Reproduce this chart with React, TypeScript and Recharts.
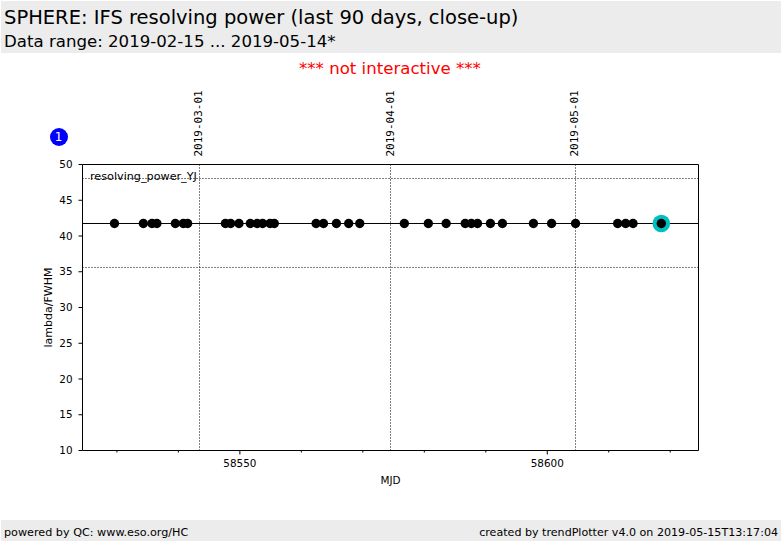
import { ScatterChart, Scatter, XAxis, YAxis, ReferenceLine } from 'recharts';

const FONT = '"DejaVu Sans", sans-serif';

const mjd = [
  58529.6, 58534.3, 58535.7, 58536.5, 58539.5, 58540.8, 58541.5, 58547.65, 58548.5, 58549.85,
  58551.7, 58552.8, 58553.7, 58554.9, 58555.6, 58562.4, 58563.6, 58565.7, 58567.7, 58569.5,
  58576.75, 58580.65, 58583.55, 58586.65, 58587.65, 58588.65, 58590.75, 58592.7, 58597.75, 58600.7,
  58604.6, 58611.45, 58612.75, 58613.95, 58618.55,
];
const resolvingPower = [
  41.75, 41.75, 41.75, 41.75, 41.75, 41.75, 41.75, 41.75, 41.75, 41.75,
  41.75, 41.75, 41.75, 41.75, 41.75, 41.75, 41.75, 41.75, 41.75, 41.75,
  41.75, 41.75, 41.75, 41.75, 41.75, 41.75, 41.75, 41.75, 41.75, 41.75,
  41.75, 41.75, 41.75, 41.75, 41.75,
];

const dateTicks = [58543.43, 58574.5, 58604.59];
const dateLabels = ['2019-03-01', '2019-04-01', '2019-05-01'];
const mjdTicks = [58530, 58540, 58550, 58560, 58570, 58580, 58590, 58600, 58610, 58620];
const mjdLabelled = [58550, 58600];
const yTicks = [10, 15, 20, 25, 30, 35, 40, 45, 50];
const medianValue = 41.75;
const limitValues = [48.04, 35.6];
const xDomain = [58524.4, 58624.6];

const points = mjd.map((x, i) => ({ x, y: resolvingPower[i] }));
const lastPoint = points.slice(-1);

function MjdTick({ x, y, payload }: any) {
  const major = mjdLabelled.includes(payload.value);
  return (
    <g>
      <line x1={x} x2={x} y1={y} y2={y + (major ? 4 : 2)} stroke="#000" />
      {major && (
        <text x={x} y={y + 16} textAnchor="middle" fontSize={10.4} fontFamily={FONT} fill="#000">
          {payload.value}
        </text>
      )}
    </g>
  );
}

function DateTick({ x, y, payload }: any) {
  const label = dateLabels[dateTicks.indexOf(payload.value)];
  return (
    <text
      transform={`translate(${x + 3},${y - 8}) rotate(-90)`}
      fontSize={11}
      fontFamily='"DejaVu Sans Mono", monospace'
      fill="#000"
    >
      {label}
    </text>
  );
}

const Dot = ({ cx, cy }: any) => <circle cx={cx} cy={cy} r={4.7} fill="#000" />;
const Highlight = ({ cx, cy }: any) => <circle cx={cx} cy={cy} r={8.8} fill="#00bfbf" />;

const bar = { position: 'absolute', left: 1, width: 780, background: '#ececec' } as const;
const text = { position: 'absolute', fontFamily: FONT, whiteSpace: 'nowrap', color: '#000' } as const;

export default function App() {
  return (
    <div style={{ position: 'absolute', left: 0, top: 0, width: 782, height: 542, background: '#fff', overflow: 'hidden' }}>
      <div style={{ ...bar, top: 1, height: 52 }} />
      <div style={{ ...bar, top: 520, height: 21 }} />
      <div style={{ ...text, left: 4, top: 6, fontSize: 19.5 }}>SPHERE: IFS resolving power (last 90 days, close-up)</div>
      <div style={{ ...text, left: 4, top: 32, fontSize: 16.6 }}>Data range: 2019-02-15 ... 2019-05-14*</div>
      <div style={{ ...text, left: 299, top: 59, fontSize: 16.6, color: '#ff0000' }}>*** not interactive ***</div>
      <div style={{ ...text, left: 4, top: 526, fontSize: 11.2 }}>powered by QC: www.eso.org/HC</div>
      <div style={{ ...text, right: 4, top: 526, fontSize: 11.1 }}>created by trendPlotter v4.0 on 2019-05-15T13:17:04</div>

      <div style={{ position: 'absolute', left: 0, top: 0 }}>
        <ScatterChart width={782} height={542} margin={{ top: 156.5, right: 82.5, bottom: 61.5, left: 42.5 }}>
          <XAxis
            xAxisId="mjd"
            type="number"
            dataKey="x"
            domain={xDomain}
            ticks={mjdTicks}
            allowDataOverflow
            height={30}
            tickLine={false}
            tick={MjdTick}
            tickMargin={0}
            tickSize={0}
            interval={0}
            stroke="#000"
            label={{ value: 'MJD', position: 'insideBottom', offset: -3, fontSize: 10.4, fontFamily: FONT, fill: '#000' }}
          />
          <XAxis
            xAxisId="date"
            orientation="top"
            type="number"
            dataKey="x"
            domain={xDomain}
            ticks={dateTicks}
            allowDataOverflow
            height={8}
            tickLine={false}
            tick={DateTick}
            tickMargin={0}
            tickSize={0}
            interval={0}
            stroke="#000"
          />
          <YAxis
            yAxisId="left"
            type="number"
            dataKey="y"
            domain={[10, 50]}
            ticks={yTicks}
            width={40}
            tickSize={4}
            tickMargin={6}
            interval={0}
            stroke="#000"
            tick={{ fontSize: 10.4, fontFamily: FONT, fill: '#000' }}
            label={{ value: 'lambda/FWHM', angle: -90, position: 'insideLeft', offset: 6, fontSize: 11, fontFamily: FONT, fill: '#000', style: { textAnchor: 'middle' } }}
          />
          <YAxis yAxisId="right" orientation="right" type="number" dataKey="y" domain={[10, 50]} width={1} tick={false} tickLine={false} stroke="#000" />

          {limitValues.map((v) => (
            <ReferenceLine key={v} xAxisId="mjd" yAxisId="left" y={v} stroke="#000" strokeDasharray="1 2" />
          ))}
          {dateTicks.map((v) => (
            <ReferenceLine key={v} xAxisId="mjd" yAxisId="left" x={v} stroke="#000" strokeDasharray="1 2" />
          ))}
          <ReferenceLine xAxisId="mjd" yAxisId="left" y={medianValue} stroke="#000" />

          <Scatter xAxisId="mjd" yAxisId="left" data={lastPoint} shape={Highlight} isAnimationActive={false} />
          <Scatter xAxisId="mjd" yAxisId="left" data={points} shape={Dot} isAnimationActive={false} />
        </ScatterChart>
      </div>

      <div style={{ ...text, left: 90, top: 170, fontSize: 11.2 }}>resolving_power_YJ</div>
      <div
        style={{
          ...text,
          left: 49.5,
          top: 127.5,
          width: 18,
          height: 18,
          borderRadius: '50%',
          background: '#0000ff',
          color: '#fff',
          fontSize: 12,
          lineHeight: '18px',
          textAlign: 'center',
        }}
      >
        1
      </div>
    </div>
  );
}
